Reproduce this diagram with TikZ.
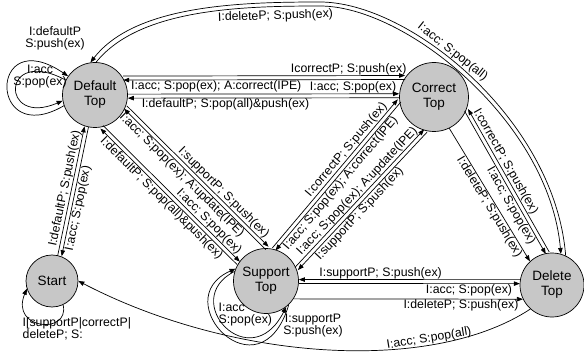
\documentclass[tikz,border=0pt]{standalone}
\usepackage{fontspec}
\setmainfont{Liberation Sans}
\usetikzlibrary{calc,arrows.meta}

\begin{document}
\begin{tikzpicture}[x=1pt, y=1pt, >={Triangle[length=6pt,width=4.5pt]},
    st/.style={circle, draw, line width=.7pt, fill=black!22, inner sep=0pt, align=center, font=\fontsize{13.5}{15}\selectfont},
    tr/.style={->, line width=.7pt},
    lbl/.style={font=\fontsize{12.3}{12}\selectfont, inner sep=.5pt}]
    \useasboundingbox (0,0) rectangle (584,354);
    \node[st, minimum size=65pt] (dflt) at (95,259) {Default\\Top};
    \node[st, minimum size=69pt] (corr) at (434,257) {Correct\\Top};
    \node[st, minimum size=65pt] (supp) at (266,73) {Support\\Top};
    \node[st, minimum size=64pt] (dele) at (552,69) {Delete\\Top};
    \node[st, minimum size=52pt] (start) at (52,73) {Start};

    % default <-> correct
    \draw[tr] ($(dflt.31.5)!2pt!90:(corr.146.6)$) -- ($(corr.146.6)!2pt!-90:(dflt.31.5)$) node[lbl, above, pos=.8] {IcorrectP; S:push(ex)};
    \draw[tr] ($(corr.146.6)!2pt!90:(dflt.31.5)$) -- ($(dflt.31.5)!2pt!-90:(corr.146.6)$) node[lbl, below, pos=.67] {I:acc; S:pop(ex); A:correct(IPE)};
    \draw[tr] ($(dflt.-2)!2pt!90:(corr.178.3)$) -- ($(corr.178.3)!2pt!-90:(dflt.-2)$) node[lbl, above, pos=.83] {I:acc; S:pop(ex)};
    \draw[tr] ($(corr.178.3)!2pt!90:(dflt.-2)$) -- ($(dflt.-2)!2pt!-90:(corr.178.3)$) node[lbl, below, pos=.64] {I:defaultP; S:pop(all)\&push(ex)};

    % default <-> support
    \draw[tr] ($(dflt.-78)!2pt!90:(supp.147)$) -- ($(supp.147)!2pt!-90:(dflt.-78)$) node[lbl, sloped, above, pos=.74] {I:acc; S:pop(ex)};
    \draw[tr] ($(supp.147)!2pt!90:(dflt.-78)$) -- ($(dflt.-78)!2pt!-90:(supp.147)$) node[lbl, sloped, below, pos=.52] {I:defaultP; S:pop(all)\&push(ex)};
    \draw[tr] ($(dflt.-22)!2pt!90:(supp.88)$) -- ($(supp.88)!2pt!-90:(dflt.-22)$) node[lbl, sloped, above, pos=.65] {I:supportP; S:push(ex)};
    \draw[tr] ($(supp.88)!2pt!90:(dflt.-22)$) -- ($(dflt.-22)!2pt!-90:(supp.88)$) node[lbl, sloped, below, pos=.56] {I:acc; S:pop(ex); A:update(IPE)};

    % support <-> correct
    \draw[tr] ($(supp.76)!2pt!90:(corr.186)$) -- ($(corr.186)!2pt!-90:(supp.76)$) node[lbl, sloped, above, pos=.63] {I:correctP; S:push(ex)};
    \draw[tr] ($(corr.186)!2pt!90:(supp.76)$) -- ($(supp.76)!2pt!-90:(corr.186)$) node[lbl, sloped, below, pos=.52] {I:acc; S:pop(ex); A:correct(IPE)};
    \draw[tr] ($(supp.22)!2pt!90:(corr.256)$) -- ($(corr.256)!2pt!-90:(supp.22)$) node[lbl, sloped, above, pos=.52] {I:acc; S:pop(ex); A:update(IPE)};
    \draw[tr] ($(corr.256)!2pt!90:(supp.22)$) -- ($(supp.22)!2pt!-90:(corr.256)$) node[lbl, sloped, below, pos=.56] {I:supportP; S:push(ex)};

    % correct <-> delete
    \draw[tr, <-] ($(corr.-22)!2pt!90:(dele.98)$) -- ($(dele.98)!2pt!-90:(corr.-22)$) node[lbl, sloped, above, pos=.39] {I:correctP; S:push(ex)};
    \draw[tr, <-] ($(dele.98)!2pt!90:(corr.-22)$) -- ($(corr.-22)!2pt!-90:(dele.98)$) node[lbl, sloped, below, pos=.36] {I:acc; S:pop(ex)};
    \draw[tr] (corr.-64) -- (dele.133) node[lbl, sloped, below, pos=.565] {I:deleteP; S:push(ex)};

    % support <-> delete
    \draw[tr, <-] ($(supp.-1)!2pt!90:(dele.174)$) -- ($(dele.174)!2pt!-90:(supp.-1)$) node[lbl, above, pos=.37] {I:supportP; S:push(ex)};
    \draw[tr, <-] ($(dele.174)!2pt!90:(supp.-1)$) -- ($(supp.-1)!2pt!-90:(dele.174)$) node[lbl, below, pos=.23] {I:acc; S:pop(ex)};
    \draw[tr] (supp.-33.6) -- (dele.206) node[lbl, below, pos=.73] {I:deleteP; S:push(ex)};

    % start <-> default
    \draw[tr] ($(start.73)!2pt!90:(dflt.255)$) -- ($(dflt.255)!2pt!-90:(start.73)$) node[lbl, sloped, above, pos=.51] {I:defaultP; S:push(ex)};
    \draw[tr] ($(dflt.255)!2pt!90:(start.73)$) -- ($(start.73)!2pt!-90:(dflt.255)$) node[lbl, sloped, below, pos=.62] {I:acc; S:pop(ex)};

    % big arc default <-> delete
    \draw[tr, <-] (dflt.98) .. controls (135,349) and (240,352) .. (320,352) .. controls (410,352) and (555,234) .. (dele.65) node[lbl, sloped, above, pos=.42] {I:acc; S:pop(all)};
    \draw[tr] (dflt.88) .. controls (139,345) and (240,348) .. (320,348) node[lbl, sloped, below=3pt, pos=.82] {I:deleteP; S:push(ex)} .. controls (406,348) and (549,232) .. (dele.74);

    % delete -> start
    \draw[tr] (dele.228) .. controls (430,-21) and (230,-6) .. (start.0) node[lbl, sloped, above, pos=.27] {I:acc; S:pop(all)};

    % self loops
    \draw[tr] (dflt.199) .. controls (-12,204) and (-12,332) .. (dflt.145);
    \draw[tr] (dflt.153) .. controls (0,309) and (0,226) .. (dflt.190);
    \node[lbl, align=center] (dfltout) at (55,316) {I:defaultP\\S:push(ex)};
    \node[lbl, align=center] (dfltin) at (40,277) {I:acc\\S:pop(ex)};

    \draw[tr] (supp.-46) .. controls (260,-46) and (165,54) .. (supp.158);
    \draw[tr] (supp.163) .. controls (178,54) and (250,-24) .. (supp.-52);
    \node[lbl, align=left, anchor=west] (suppin) at (218,39) {I:acc\\S:pop(ex)};
    \node[lbl, align=center] (suppout) at (313,28) {I:supportP\\S:push(ex)};

    \draw[tr] (start.-65) .. controls (70,19) and (10,24) .. (start.197);
    \node[lbl, align=left, anchor=north west] (startlbl) at (22,37) {I[supportP|correctP|\\deleteP; S:};
\end{tikzpicture}
\end{document}
